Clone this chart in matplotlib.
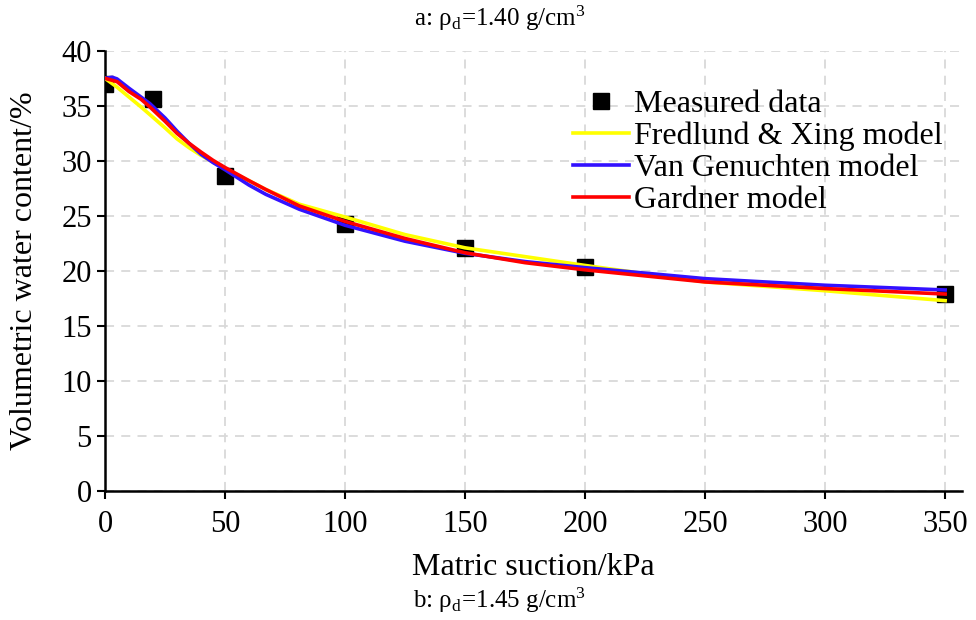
"""Soil-water characteristic curve: measured data vs fitted models."""

import matplotlib.pyplot as plt

plt.rcParams["font.family"] = ["Liberation Serif", "DejaVu Serif"]
plt.rcParams["mathtext.fontset"] = "stix"

# measured points
suction = [0, 20, 50, 100, 150, 200, 350]
measured = [37.0, 35.6, 28.6, 24.3, 22.1, 20.4, 17.9]

# fitted curves
fx_x = [0, 5, 10, 15, 18.7, 25, 30, 35, 40, 45, 50, 60, 67, 81, 100, 125, 150, 175,
        200, 250, 300, 350]
fx_y = [37.5, 36.7, 35.8, 34.9, 34.2, 33.0, 32.0, 31.2, 30.5, 29.9, 29.3, 28.2, 27.4,
        26.06, 24.9, 23.3, 22.1, 21.3, 20.5, 19.0, 18.2, 17.3]

vg_x = [0, 3, 5, 10, 15, 18.7, 25, 30, 35, 40, 45, 50, 60, 67, 81, 100, 125, 150,
        175, 200, 250, 300, 350]
vg_y = [37.5, 37.6, 37.45, 36.6, 35.8, 35.2, 33.9, 32.7, 31.6, 30.6, 29.85, 29.2,
        27.8, 26.96, 25.6, 24.15, 22.7, 21.6, 20.85, 20.3, 19.3, 18.7, 18.27]

gd_x = [0, 5, 10, 15, 18.7, 25, 30, 35, 40, 45, 50, 60, 67, 81, 100, 125, 150, 175,
        200, 250, 300, 350]
gd_y = [37.5, 37.2, 36.3, 35.6, 34.9, 33.6, 32.5, 31.6, 30.8, 30.05, 29.4, 28.2, 27.4,
        25.9, 24.5, 22.95, 21.65, 20.75, 20.1, 19.0, 18.4, 17.9]

fig = plt.figure(figsize=(9.76, 6.2), dpi=100)
ax = fig.add_axes([0.1076, 0.208, 0.878, 0.710])

ax.plot(suction, measured, "s", color="black", markersize=11, label="Measured data", zorder=3)
ax.plot(fx_x, fx_y, color="#ffff00", linewidth=2.6, label="Fredlund & Xing model", zorder=4)
ax.plot(vg_x, vg_y, color="#3311ff", linewidth=2.6, label="Van Genuchten model", zorder=5)
ax.plot(gd_x, gd_y, color="#ff0000", linewidth=2.6, label="Gardner model", zorder=6)

ax.set_xlim(0, 357)
ax.set_ylim(0, 40)
ax.set_xticks(range(0, 351, 50))
ax.set_yticks(range(0, 41, 5))
ax.grid(True, color="#d9d9d9", linestyle=(0, (5, 4)), linewidth=1.3)
ax.set_axisbelow(True)

for side in ("top", "right"):
    ax.spines[side].set_visible(False)
for side in ("left", "bottom"):
    ax.spines[side].set_linewidth(1.8)
ax.tick_params(axis="both", direction="out", length=6, width=1.5, labelsize=22)
ax.tick_params(axis="x", pad=8)

ax.set_xlabel("Matric suction/kPa", fontsize=23, labelpad=10)
ax.set_ylabel("Volumetric water content/%", fontsize=23, labelpad=16)

ax.legend(loc="upper right", bbox_to_anchor=(1.0, 0.955), frameon=False, fontsize=23,
          handlelength=1.75, handletextpad=0.15, labelspacing=0.08, borderaxespad=0.2)

fig.text(0.512, 0.970, r"a: ρ$_\mathregular{d}$=1.40 g/cm$^\mathregular{3}$",
         ha="center", va="center", fontsize=18)
fig.text(0.512, 0.032, r"b: ρ$_\mathregular{d}$=1.45 g/cm$^\mathregular{3}$",
         ha="center", va="center", fontsize=18)

fig.savefig("out.png", dpi=100)
